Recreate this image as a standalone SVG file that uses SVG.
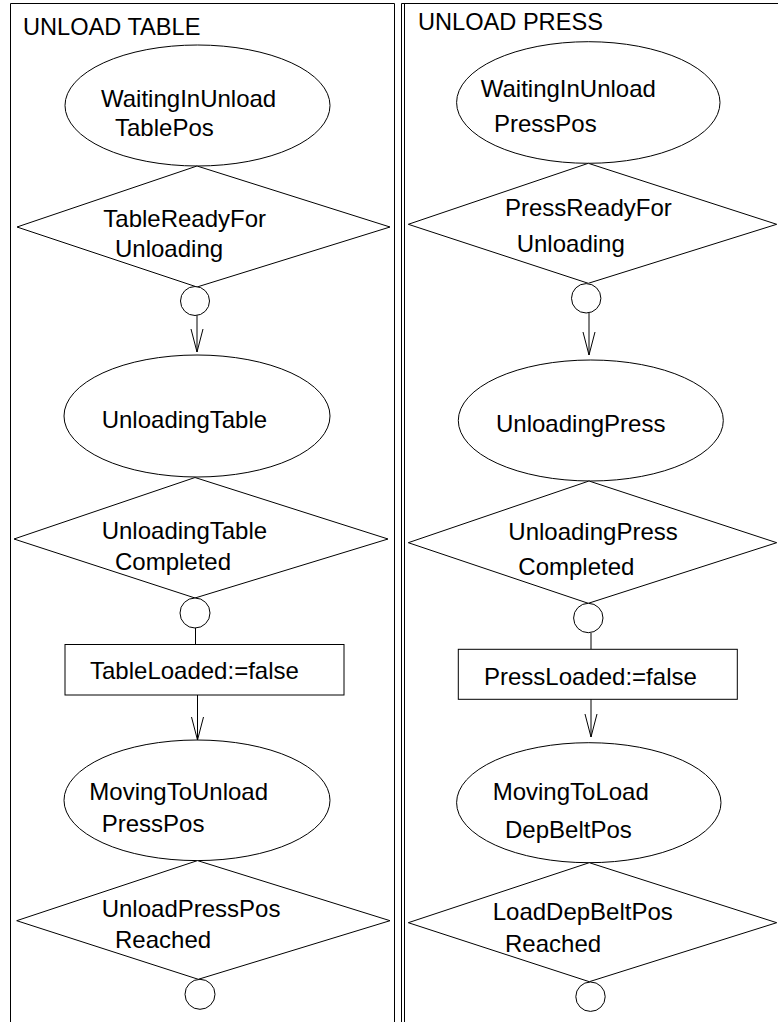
<svg xmlns="http://www.w3.org/2000/svg" width="778" height="1022" viewBox="0 0 778 1022">
  <style>
    .shape { fill: #ffffff; stroke: #000000; stroke-width: 1; }
    .frame { fill: none; stroke: #000000; stroke-width: 1; }
    .edge { fill: none; stroke: #000000; stroke-width: 1; }
    text { font-family: "Liberation Sans", Arial, Helvetica, sans-serif; font-size: 24px; fill: #000000; }
    .lane-title { font-size: 23.6px; }
  </style>
  <defs>
    <marker id="vee" viewBox="-25 -7 26 14" markerWidth="26" markerHeight="14" refX="0" refY="0" orient="auto" markerUnits="userSpaceOnUse">
      <path d="M-23,-6 L0,0 L-23,6" fill="none" stroke="#000000" stroke-width="1"/>
    </marker>
  </defs>

  <rect width="778" height="1022" fill="#ffffff"/>

  <!-- swimlane frames -->
  <g id="lanes">
    <path class="frame" d="M10.5,1022 V3.5 H394.5 V1022"/>
    <path class="frame" d="M401.5,1022 V3.5 H778"/>
    <line class="frame" x1="404.5" y1="3.5" x2="404.5" y2="1022"/>
    <text class="lane-title" x="23" y="35">UNLOAD TABLE</text>
    <text class="lane-title" x="418" y="30">UNLOAD PRESS</text>
  </g>

  <!-- connectors -->
  <g id="connectors">
    <line class="edge" x1="197" y1="315" x2="197" y2="352" marker-end="url(#vee)"/>
    <line class="edge" x1="195.5" y1="628" x2="195.5" y2="645"/>
    <line class="edge" x1="197.5" y1="695" x2="197.5" y2="740" marker-end="url(#vee)"/>
    <line class="edge" x1="589" y1="313" x2="589" y2="355" marker-end="url(#vee)"/>
    <line class="edge" x1="591" y1="633" x2="591" y2="649"/>
    <line class="edge" x1="591" y1="699" x2="591" y2="737" marker-end="url(#vee)"/>
  </g>

  <!-- UNLOAD TABLE lane -->
  <g id="waiting-unload-table">
    <ellipse class="shape" cx="197.5" cy="105.5" rx="132.5" ry="60.5"/>
    <text x="101" y="107">WaitingInUnload</text>
    <text x="115" y="136">TablePos</text>
  </g>
  <g id="table-ready">
    <polygon class="shape" points="197,166 390,227 197,287 17,227"/>
    <text x="103.3" y="226.7">TableReadyFor</text>
    <text x="115" y="257.3">Unloading</text>
  </g>
  <g id="table-ready-out">
    <circle class="shape" cx="195" cy="301" r="14.5"/>
  </g>
  <g id="unloading-table">
    <ellipse class="shape" cx="197" cy="416" rx="133" ry="61"/>
    <text x="101.7" y="428.3">UnloadingTable</text>
  </g>
  <g id="unloading-table-completed">
    <polygon class="shape" points="195,477.5 388,539 195,598 14,539"/>
    <text x="101.7" y="539.3">UnloadingTable</text>
    <text x="115" y="570">Completed</text>
  </g>
  <g id="unloading-table-completed-out">
    <circle class="shape" cx="195" cy="613" r="15"/>
  </g>
  <g id="table-loaded-false">
    <rect class="shape" x="65" y="644.5" width="279" height="50.5"/>
    <text x="90" y="679.3">TableLoaded:=false</text>
  </g>
  <g id="moving-to-unload-press">
    <ellipse class="shape" cx="197" cy="800.3" rx="133" ry="60.3"/>
    <text x="89.3" y="800">MovingToUnload</text>
    <text x="101.7" y="831.7">PressPos</text>
  </g>
  <g id="unload-press-pos-reached">
    <polygon class="shape" points="197.5,860.6 390,920.7 198.3,979.3 16.7,920.7"/>
    <text x="101.7" y="917.3">UnloadPressPos</text>
    <text x="115" y="948.3">Reached</text>
  </g>
  <g id="unload-press-pos-reached-out">
    <circle class="shape" cx="200" cy="994.3" r="15"/>
  </g>

  <!-- UNLOAD PRESS lane -->
  <g id="waiting-unload-press">
    <ellipse class="shape" cx="588.3" cy="102.5" rx="131.7" ry="60.8"/>
    <text x="480.7" y="96.7">WaitingInUnload</text>
    <text x="494" y="131.7">PressPos</text>
  </g>
  <g id="press-ready">
    <polygon class="shape" points="588.3,163.3 776.7,224.3 588.3,283.3 408.3,224.3"/>
    <text x="505" y="216">PressReadyFor</text>
    <text x="516.7" y="251.7">Unloading</text>
  </g>
  <g id="press-ready-out">
    <circle class="shape" cx="586.2" cy="298.3" r="14.7"/>
  </g>
  <g id="unloading-press">
    <ellipse class="shape" cx="590.8" cy="420.5" rx="132.5" ry="60.5"/>
    <text x="496" y="431.7">UnloadingPress</text>
  </g>
  <g id="unloading-press-completed">
    <polygon class="shape" points="589,481 776.7,542.7 588.3,603.3 408.3,542.7"/>
    <text x="508.3" y="540">UnloadingPress</text>
    <text x="518.3" y="575">Completed</text>
  </g>
  <g id="unloading-press-completed-out">
    <circle class="shape" cx="588.3" cy="618" r="14.7"/>
  </g>
  <g id="press-loaded-false">
    <rect class="shape" x="458.3" y="649.3" width="279" height="50"/>
    <text x="484" y="685">PressLoaded:=false</text>
  </g>
  <g id="moving-to-load-dep-belt">
    <ellipse class="shape" cx="588.8" cy="802.7" rx="132.2" ry="60"/>
    <text x="492.7" y="800">MovingToLoad</text>
    <text x="505" y="838.3">DepBeltPos</text>
  </g>
  <g id="load-dep-belt-pos-reached">
    <polygon class="shape" points="589.3,862.7 776.7,922.7 589.3,981.7 408.3,922.7"/>
    <text x="492.7" y="920">LoadDepBeltPos</text>
    <text x="505" y="951.7">Reached</text>
  </g>
  <g id="load-dep-belt-pos-reached-out">
    <circle class="shape" cx="590.5" cy="996.7" r="14.7"/>
  </g>
</svg>
